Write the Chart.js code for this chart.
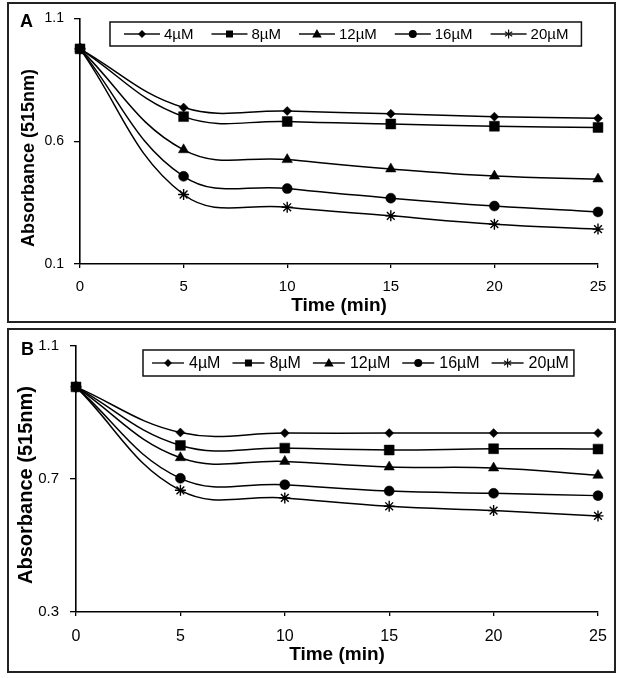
<!DOCTYPE html>
<html><head><meta charset="utf-8">
<script src="https://cdn.jsdelivr.net/npm/chart.js@4.4.0/dist/chart.umd.min.js"></script>
<style>
html,body{margin:0;padding:0;background:#fff;}
body{width:622px;height:678px;position:relative;overflow:hidden;font-family:'Liberation Sans',Arial,sans-serif;}
.frame{position:absolute;border:2px solid #222;box-sizing:border-box;pointer-events:none;}
#cA{position:absolute;left:0;top:0;width:622px;height:326px;}
#cB{position:absolute;left:0;top:326px;width:622px;height:352px;}
</style></head><body>
<canvas id="cA" width="622" height="326"></canvas>
<canvas id="cB" width="622" height="352"></canvas>
<div class="frame" style="left:7px;top:2px;width:609px;height:321px"></div>
<div class="frame" style="left:7px;top:328px;width:609px;height:345px"></div>
<script>
const timeLabels = ['0','5','10','15','20','25'];
const seriesNames = ['4µM','8µM','12µM','16µM','20µM'];
const markerStyles = ['rectRot','rect','triangle','circle','star'];
const markerRadii = [4.5,7,6,5,5.5];

// Panel A
const a4  = [0.976, 0.737, 0.723, 0.712, 0.700, 0.693];
const a8  = [0.976, 0.700, 0.680, 0.670, 0.661, 0.656];
const a12 = [0.976, 0.565, 0.525, 0.487, 0.458, 0.446];
const a16 = [0.976, 0.457, 0.407, 0.368, 0.336, 0.312];
const a20 = [0.976, 0.383, 0.331, 0.296, 0.262, 0.242];
const yTicksA = [0.1, 0.6, 1.1];

// Panel B
const b4  = [0.977, 0.840, 0.838, 0.838, 0.838, 0.838];
const b8  = [0.977, 0.801, 0.793, 0.787, 0.791, 0.790];
const b12 = [0.977, 0.764, 0.753, 0.736, 0.733, 0.711];
const b16 = [0.977, 0.702, 0.683, 0.664, 0.657, 0.650];
const b20 = [0.977, 0.666, 0.643, 0.618, 0.605, 0.589];
const yTicksB = [0.3, 0.7, 1.1];

const FONT = "'Liberation Sans', Arial, sans-serif";
Chart.defaults.font.family = FONT;
Chart.defaults.color = '#000';

function drawMarker(ctx, style, x, y, r) {
  ctx.beginPath();
  if (style === 'rectRot') {
    ctx.moveTo(x, y - r); ctx.lineTo(x + r, y); ctx.lineTo(x, y + r); ctx.lineTo(x - r, y); ctx.closePath(); ctx.fill();
  } else if (style === 'rect') {
    ctx.rect(x - r, y - r, 2 * r, 2 * r); ctx.fill();
  } else if (style === 'triangle') {
    ctx.moveTo(x, y - r); ctx.lineTo(x + r * 0.95, y + r * 0.7); ctx.lineTo(x - r * 0.95, y + r * 0.7); ctx.closePath(); ctx.fill();
  } else if (style === 'circle') {
    ctx.arc(x, y, r, 0, Math.PI * 2); ctx.fill();
  } else if (style === 'star') {
    ctx.moveTo(x, y - r); ctx.lineTo(x, y + r);
    const d = r * 0.8;
    ctx.moveTo(x - d, y - d * 0.6); ctx.lineTo(x + d, y + d * 0.6);
    ctx.moveTo(x - d, y + d * 0.6); ctx.lineTo(x + d, y - d * 0.6);
    ctx.stroke();
  }
}

const decor = {
  id: 'decor',
  afterDraw(chart, args, o) {
    const ctx = chart.ctx;
    ctx.save();
    ctx.fillStyle = '#000'; ctx.strokeStyle = '#000';
    // panel label
    ctx.font = 'bold ' + o.panel.size + 'px ' + FONT;
    ctx.textAlign = 'left'; ctx.textBaseline = 'alphabetic';
    ctx.fillText(o.panel.text, o.panel.x, o.panel.y);
    // y title
    ctx.save();
    ctx.translate(o.ytitle.x, o.ytitle.y);
    ctx.rotate(-Math.PI / 2);
    ctx.font = 'bold ' + o.ytitle.size + 'px ' + FONT;
    ctx.textAlign = 'center'; ctx.textBaseline = 'middle';
    ctx.fillText(o.ytitle.text, 0, 0);
    ctx.restore();
    // legend
    const L = o.legend;
    ctx.font = L.font + 'px ' + FONT;
    let x = L.x + L.padL;
    const cy = L.y + L.h / 2;
    const items = chart.data.datasets.map((ds, i) => {
      const w = ctx.measureText(ds.label).width;
      const it = {x: x, w: w, label: ds.label, style: markerStyles[i]};
      x += L.lineLen + L.gap + w + L.entryGap;
      return it;
    });
    const last = items[items.length - 1];
    const boxR = last.x + L.lineLen + L.gap + last.w + L.padR;
    ctx.lineWidth = 1.5;
    ctx.strokeStyle = '#111';
    ctx.strokeRect(L.x, L.y, boxR - L.x, L.h);
    ctx.textAlign = 'left'; ctx.textBaseline = 'middle';
    items.forEach(it => {
      ctx.lineWidth = 1.4;
      ctx.beginPath(); ctx.moveTo(it.x, cy); ctx.lineTo(it.x + L.lineLen, cy); ctx.stroke();
      ctx.lineWidth = 1.2;
      drawMarker(ctx, it.style, it.x + L.lineLen / 2, cy, L.mr[it.style]);
      ctx.fillText(it.label, it.x + L.lineLen + L.gap, cy + 1);
    });
    ctx.restore();
  }
};

function makeDatasets(arrs) {
  return arrs.map((d, i) => ({
    label: seriesNames[i],
    data: d,
    borderColor: '#000',
    backgroundColor: '#000',
    borderWidth: 1.5,
    pointStyle: markerStyles[i],
    pointRadius: markerRadii[i],
    pointHoverRadius: markerRadii[i],
    pointBackgroundColor: '#000',
    pointBorderColor: '#000',
    pointBorderWidth: markerStyles[i] === 'star' ? 1.4 : 0.5,
    tension: 0.4,
    fill: false
  }));
}

function makeChart(id, arrs, cfg) {
  return new Chart(document.getElementById(id), {
    type: 'line',
    data: { labels: timeLabels, datasets: makeDatasets(arrs) },
    plugins: [decor],
    options: {
      responsive: false,
      animation: false,
      devicePixelRatio: 1,
      layout: { padding: { left: 0, right: 24, top: cfg.top, bottom: 0 } },
      plugins: {
        legend: { display: false },
        tooltip: { enabled: false },
        decor: cfg.decor
      },
      scales: {
        x: {
          type: 'category',
          offset: false,
          grid: { drawOnChartArea: false, drawTicks: true, tickLength: 4, color: '#000', lineWidth: 1.3 },
          border: { color: '#000', width: 1.6 },
          ticks: { color: '#000', font: { size: cfg.xtick }, padding: cfg.xpad, maxRotation: 0, autoSkip: false },
          title: { display: true, text: 'Time (min)', color: '#000', font: { size: 19, weight: 'bold' }, padding: { top: 0, bottom: cfg.tpad } },
          afterFit(s) { s.height = cfg.xh; }
        },
        y: {
          type: 'linear',
          min: cfg.yt[0], max: cfg.yt[cfg.yt.length - 1],
          afterBuildTicks(s) { s.ticks = cfg.yt.map(v => ({ value: v })); },
          grid: { drawOnChartArea: false, drawTicks: true, tickLength: 6, color: '#000', lineWidth: 1.3 },
          border: { color: '#000', width: 1.6 },
          ticks: { color: '#000', font: { size: cfg.ytick }, padding: cfg.ypad, callback: v => Number(v).toFixed(1) },
          afterFit(s) { s.width = cfg.yw; }
        }
      }
    }
  });
}

const legendMR = { rectRot: 4, rect: 3.5, triangle: 5, circle: 4, star: 4.5 };

makeChart('cA', [a4, a8, a12, a16, a20], {
  top: 11, xh: 62, yw: 80, xtick: 15, xpad: 10, tpad: 9, ytick: 14, ypad: 10, yt: yTicksA,
  decor: {
    panel: { text: 'A', x: 20, y: 27, size: 18 },
    ytitle: { text: 'Absorbance (515nm)', x: 29, y: 158, size: 18 },
    legend: { x: 110, y: 22, h: 24, font: 15, padL: 14, lineLen: 36, gap: 4, entryGap: 18, padR: 13, mr: legendMR }
  }
});

makeChart('cB', [b4, b8, b12, b16, b20], {
  top: 14, xh: 66, yw: 76, xtick: 16, xpad: 11, tpad: 12, ytick: 15, ypad: 11, yt: yTicksB,
  decor: {
    panel: { text: 'B', x: 21, y: 29, size: 18 },
    ytitle: { text: 'Absorbance (515nm)', x: 26, y: 159, size: 20 },
    legend: { x: 143, y: 24, h: 26, font: 16, padL: 9, lineLen: 32, gap: 5, entryGap: 12, padR: 5, mr: legendMR }
  }
});
</script>
</body></html>
